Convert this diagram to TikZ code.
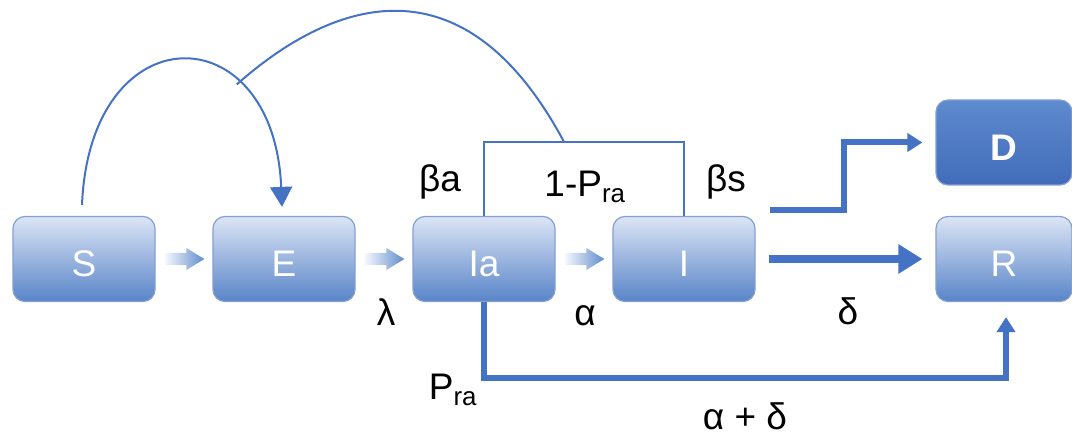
\documentclass[tikz,border=0pt]{standalone}
\usepackage{fontspec}
\setmainfont{Liberation Sans}
\usetikzlibrary{calc}
\usetikzlibrary{arrows.meta}

\definecolor{flowblue}{RGB}{68,114,196}
\definecolor{fadeblue}{RGB}{96,140,206}
\definecolor{boxtop}{RGB}{220,229,245}
\definecolor{boxbottom}{RGB}{88,132,200}
\definecolor{boxedge}{RGB}{132,160,210}
\definecolor{deadtop}{RGB}{94,138,206}
\definecolor{deadbottom}{RGB}{66,108,186}

\tikzset{
  compartment/.style={rounded corners=12pt, draw=boxedge, line width=1.2pt,
    top color=boxtop, bottom color=boxbottom, minimum width=142pt,
    minimum height=85pt, inner sep=0pt, text=white,
    text height=36pt, text depth=0pt, font=\fontsize{37}{44}\selectfont},
  endbox/.style={compartment, minimum width=136pt},
  deadbox/.style={endbox, top color=deadtop, bottom color=deadbottom,
    font=\fontsize{37}{44}\selectfont\bfseries},
  rate/.style={anchor=base, inner sep=0pt, font=\fontsize{37}{44}\selectfont},
  thinflow/.style={flowblue, line width=2pt},
  bigflow/.style={flowblue, line width=6pt, -{Triangle[length=15pt,width=18pt]}},
  mainflow/.style={flowblue, line width=8pt, -{Triangle[length=24pt,width=28pt]}},
}

\begin{document}
\begin{tikzpicture}[x=1pt,y=-1pt]
\useasboundingbox (0,0) rectangle (1072,438);

\coordinate (s) at (84,259);
\coordinate (e) at (284,259);
\coordinate (ia) at (484,259);
\coordinate (i) at (684,259);
\coordinate (d) at (1004,142.5);
\coordinate (r) at (1004,259);

\newcommand{\fadearrow}[2]{
    \shade[left color=fadeblue!8, middle color=fadeblue!80, right color=fadeblue]
      ($(#1.east)+(10,-6)$) -- ($(#2.west)+(-26,-6)$) -- ($(#2.west)+(-26,-11)$)
      -- ($(#2.west)+(-8,0)$) -- ($(#2.west)+(-26,11)$) -- ($(#2.west)+(-26,6)$)
      -- ($(#1.east)+(10,6)$) -- cycle;
}

% compartments
\node[compartment] (S) at (s) {S};
\node[compartment] (E) at (e) {E};
\node[compartment] (Ia) at (ia) {Ia};
\node[compartment] (I) at (i) {I};
\node[deadbox] (D) at (d) {D};
\node[endbox] (R) at (r) {R};

\fadearrow{S}{E}
\fadearrow{E}{Ia}
\fadearrow{Ia}{I}

% infection loops
\draw[thinflow] (Ia.north) -- ++(0,-74) -| (I.north);
\coordinate (btop) at ($(Ia.north)+(80,-74)$);
\draw[thinflow, -{Triangle[length=20pt,width=22pt]}] ($(S.north)+(-2,-11)$)
    .. controls +(8,-193) and +(-8,-194) .. ($(E.north)+(-2,-9)$)
    coordinate[pos=0.7] (join);
\draw[thinflow] (btop) .. controls +(-116,-217) and +(61,-54) .. (join);

% exits
\coordinate (sout) at ($(I.east)+(14,-49)$);
\draw[bigflow] (sout) -- ++(74,0) |- ([xshift=-13pt]D.west);
\draw[mainflow] ([xshift=13pt]I.east) -- ([xshift=-13pt]R.west);
\draw[bigflow] (Ia.south) -- ++(0,76) -| ([xshift=2pt,yshift=-15pt]R.south);

% rates
\node[rate] (lambda) at (386,326) {λ};
\node[rate] (alpha) at (585,326) {α};
\node[rate] (delta) at (848,325) {δ};
\node[rate] (betaa) at (440,192) {βa};
\node[rate] (betas) at (726,192) {βs};
\node[rate] (notrec) at (585,197) {1-P\textsubscript{ra}};
\node[rate] (rec) at (453,400) {P\textsubscript{ra}};
\node[rate] (sumrate) at (745,430) {α + δ};
\end{tikzpicture}
\end{document}
